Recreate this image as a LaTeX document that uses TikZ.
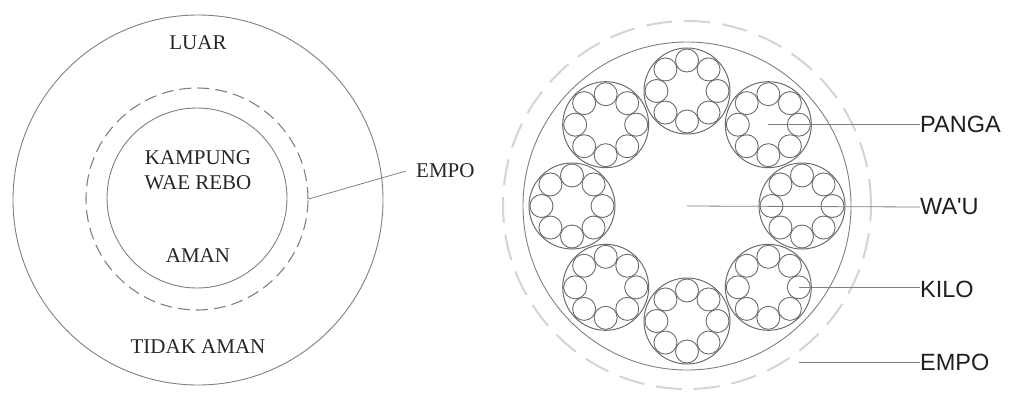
\documentclass[tikz,border=0pt]{standalone}
\usepackage{fontspec}
\setmainfont{Liberation Serif}
\newfontfamily\labsans{Liberation Sans}
\begin{document}
\begin{tikzpicture}[x=1pt,y=-1pt,
  ringline/.style={draw=black!50,line width=0.9pt},
  dashring/.style={draw=black!50,line width=1.1pt,dash pattern=on 12pt off 6pt},
  lightdash/.style={draw=black!17,line width=2pt,dash pattern=on 26pt off 12pt},
  strand/.style={circle,draw=black!58,line width=1pt,minimum size=86pt,inner sep=0pt,outer sep=0pt},
  wire/.style={draw=black!58,line width=0.9pt},
  leader/.style={draw=black!50,line width=0.8pt},
  serlab/.style={font=\fontsize{21}{25}\selectfont,text=black!85,inner sep=0pt},
  sanslab/.style={font=\labsans\fontsize{23.5}{27}\selectfont,text=black!88,inner sep=0pt,anchor=west}]
\useasboundingbox (0,0) rectangle (1009,394);
% ---- left diagram ----
\node[circle,ringline,minimum size=370pt,inner sep=0pt] (outer) at (198,200) {};
\node[circle,dashring,minimum size=222pt,inner sep=0pt] (empoL) at (197,199) {};
\node[circle,ringline,minimum size=180pt,inner sep=0pt] (inner) at (197,198) {};
\node[serlab] (luar) at (198,43) {LUAR};
\node[serlab] (kampung) at (198,158) {KAMPUNG};
\node[serlab] (wae) at (198,183) {WAE REBO};
\node[serlab] (aman) at (198,256) {AMAN};
\node[serlab] (tidak) at (198,347) {TIDAK AMAN};
\node[serlab,anchor=west] (empolab) at (416,171) {EMPO};
\draw[leader] (empoL.east) -- ([xshift=-10pt]empolab.west);
% ---- right diagram ----
\node[circle,lightdash,minimum size=368pt,inner sep=0pt] (empoR) at (687,205) {};
\node[circle,ringline,minimum size=328pt,inner sep=0pt] (rope) at (687,206) {};
\coordinate (core) at (687,206);
\foreach \a [count=\i] in {90,45,0,-45,-90,-135,180,135} {
  \node[strand] (s\i) at ({687+115*cos(\a)},{206-115*sin(\a)}) {};
  \foreach \b in {0,45,...,315}
    \draw[wire] (s\i.center) ++({30.5*cos(\b)},{30.5*sin(\b)}) circle[radius=11.5pt];
}
\coordinate (kilo) at ([xshift=31pt]s4.center);
\coordinate (empoend) at (799,362);
\node[sanslab] (panga) at (920,124) {PANGA};
\node[sanslab] (wau) at (920,207) {WA'U};
\node[sanslab] (kilolab) at (920,289) {KILO};
\node[sanslab] (empolabR) at (920,362) {EMPO};
\draw[leader] (s2.center) -- (s2.center -| panga.west);
\draw[leader] (core) -- (wau.west);
\draw[leader] (kilo) -- (kilo -| kilolab.west);
\draw[leader] (empoend) -- (empolabR.west);
\end{tikzpicture}
\end{document}
